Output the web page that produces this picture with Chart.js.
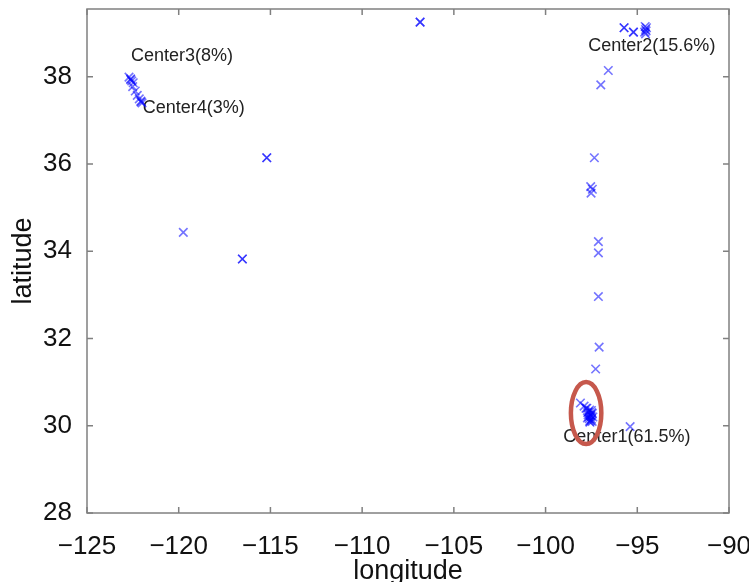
<!DOCTYPE html>
<html>
<head>
<meta charset="utf-8">
<script src="https://cdn.jsdelivr.net/npm/chart.js@4/dist/chart.umd.min.js"></script>
<style>
  html, body { margin: 0; padding: 0; background: #fff; }
  canvas { display: block; }
</style>
</head>
<body>
<canvas id="scatterChart" width="749" height="582"></canvas>
<script>
// longitude / latitude of each location
const lon = [
  -122.71, -122.62, -122.62, -122.56, -122.48, -122.51, -122.37, -122.26, -122.15, -122.06, -122.06, -122.0,
  -95.72, -95.72, -95.21, -95.21, -94.57, -94.55, -94.6, -94.5, -94.55, -94.52, -96.58, -96.99,
  -106.84, -106.84, -115.2, -115.2, -119.75, -116.53, -116.53,
  -97.34, -97.54, -97.52, -97.45, -97.12, -97.12, -97.12, -97.08, -97.27, -95.39,
  -98.1, -97.9, -97.75, -97.6, -97.7, -97.55, -97.65, -97.5, -97.6, -97.45, -97.72, -97.5,
  -97.8, -97.55, -97.42, -97.68, -97.58, -97.48, -97.62, -97.52, -97.66, -97.46
];
const lat = [
  37.99, 37.95, 37.93, 37.90, 37.86, 37.77, 37.67, 37.57, 37.49, 37.44, 37.42, 37.40,
  39.12, 39.12, 39.02, 39.02, 39.15, 39.08, 39.02, 39.12, 38.98, 39.05, 38.14, 37.81,
  39.25, 39.25, 36.14, 36.14, 34.43, 33.82, 33.82,
  36.14, 35.48, 35.33, 35.42, 34.22, 33.96, 32.96, 31.8, 31.3, 29.98,
  30.52, 30.45, 30.4, 30.36, 30.3, 30.25, 30.2, 30.15, 30.1, 30.28, 30.18, 30.35,
  30.4, 30.12, 30.2, 30.25, 30.08, 30.3, 30.16, 30.22, 30.32, 30.1
];

const xTicks = [-125, -120, -115, -110, -105, -100, -95, -90];
const yTicks = [28, 30, 32, 34, 36, 38];

const centerLabels = ['Center3(8%)', 'Center4(3%)', 'Center2(15.6%)', 'Center1(61.5%)'];
const centerLon = [-122.6, -121.96, -97.67, -99.03];
const centerLat = [38.48, 37.29, 38.7, 29.75];

// red ring around the Center1 cluster
const ringLon = -97.79;
const ringLat = 30.29;
const ringRx = 0.83;
const ringRy = 0.71;

const points = lon.map((v, i) => ({ x: v, y: lat[i] }));

const boxPlugin = {
  id: 'boxPlugin',
  beforeDatasetsDraw(chart) {
    const ctx = chart.ctx;
    const xs = chart.scales.x, ys = chart.scales.y;
    ctx.save();
    ctx.font = '18px "Liberation Sans", Arial, sans-serif';
    ctx.fillStyle = '#222';
    ctx.textAlign = 'left';
    ctx.textBaseline = 'middle';
    centerLabels.forEach((t, i) => {
      ctx.fillText(t, xs.getPixelForValue(centerLon[i]), ys.getPixelForValue(centerLat[i]));
    });
    ctx.restore();
  },
  afterDatasetsDraw(chart) {
    const ctx = chart.ctx;
    const xs = chart.scales.x, ys = chart.scales.y;
    const a = chart.chartArea;
    ctx.save();
    // ring
    const cx = xs.getPixelForValue(ringLon), cy = ys.getPixelForValue(ringLat);
    const rx = Math.abs(xs.getPixelForValue(ringLon + ringRx) - cx);
    const ry = Math.abs(ys.getPixelForValue(ringLat + ringRy) - cy);
    ctx.strokeStyle = 'rgb(198,88,76)';
    ctx.lineWidth = 4.5;
    ctx.beginPath();
    ctx.ellipse(cx, cy, rx, ry, 0, 0, Math.PI * 2);
    ctx.stroke();

    // axes box with inward ticks
    ctx.strokeStyle = '#808080';
    ctx.lineWidth = 1.5;
    ctx.strokeRect(a.left, a.top, a.right - a.left, a.bottom - a.top);
    ctx.beginPath();
    xTicks.forEach(v => {
      const px = xs.getPixelForValue(v);
      ctx.moveTo(px, a.bottom); ctx.lineTo(px, a.bottom - 6);
      ctx.moveTo(px, a.top); ctx.lineTo(px, a.top + 6);
    });
    yTicks.forEach(v => {
      const py = ys.getPixelForValue(v);
      ctx.moveTo(a.left, py); ctx.lineTo(a.left + 6, py);
      ctx.moveTo(a.right, py); ctx.lineTo(a.right - 6, py);
    });
    ctx.stroke();
    ctx.restore();
  }
};

const ctx = document.getElementById('scatterChart');

new Chart(ctx, {
  type: 'scatter',
  data: {
    datasets: [{
      data: points,
      pointStyle: 'crossRot',
      pointRadius: 6,
      pointHoverRadius: 6,
      borderWidth: 1.6,
      borderColor: 'rgba(0,0,255,0.55)',
      backgroundColor: 'rgba(0,0,255,0.55)'
    }]
  },
  options: {
    responsive: false,
    animation: false,
    layout: {
      padding: { left: 0, right: 20, top: 9, bottom: 0 }
    },
    plugins: {
      legend: { display: false },
      tooltip: { enabled: false }
    },
    scales: {
      x: {
        type: 'linear',
        min: -125,
        max: -90,
        afterBuildTicks: (scale) => { scale.ticks = xTicks.map(v => ({ value: v })); },
        afterFit: (scale) => { scale.height = 69; scale.paddingLeft = 0; scale.paddingRight = 0; },
        grid: { display: false },
        border: { display: false },
        ticks: {
          padding: 10,
          color: '#111',
          maxRotation: 0,
          font: { family: '"Liberation Sans", Arial, sans-serif', size: 26 },
          callback: (v) => (v < 0 ? '\u2212' + Math.abs(v) : String(v))
        },
        title: {
          display: true,
          text: 'longitude',
          color: '#111',
          padding: { top: 0, bottom: 0 },
          font: { family: '"Liberation Sans", Arial, sans-serif', size: 27, lineHeight: 0.8 }
        }
      },
      y: {
        type: 'linear',
        min: 28,
        max: 39.55,
        afterBuildTicks: (scale) => { scale.ticks = yTicks.map(v => ({ value: v })); },
        afterFit: (scale) => { scale.width = 87; scale.paddingTop = 0; scale.paddingBottom = 0; },
        grid: { display: false },
        border: { display: false },
        ticks: {
          padding: 7,
          color: '#111',
          font: { family: '"Liberation Sans", Arial, sans-serif', size: 26 }
        },
        title: {
          display: true,
          text: 'latitude',
          color: '#111',
          padding: { top: 7, bottom: 0 },
          font: { family: '"Liberation Sans", Arial, sans-serif', size: 27 }
        }
      }
    }
  },
  plugins: [boxPlugin]
});
</script>
</body>
</html>
